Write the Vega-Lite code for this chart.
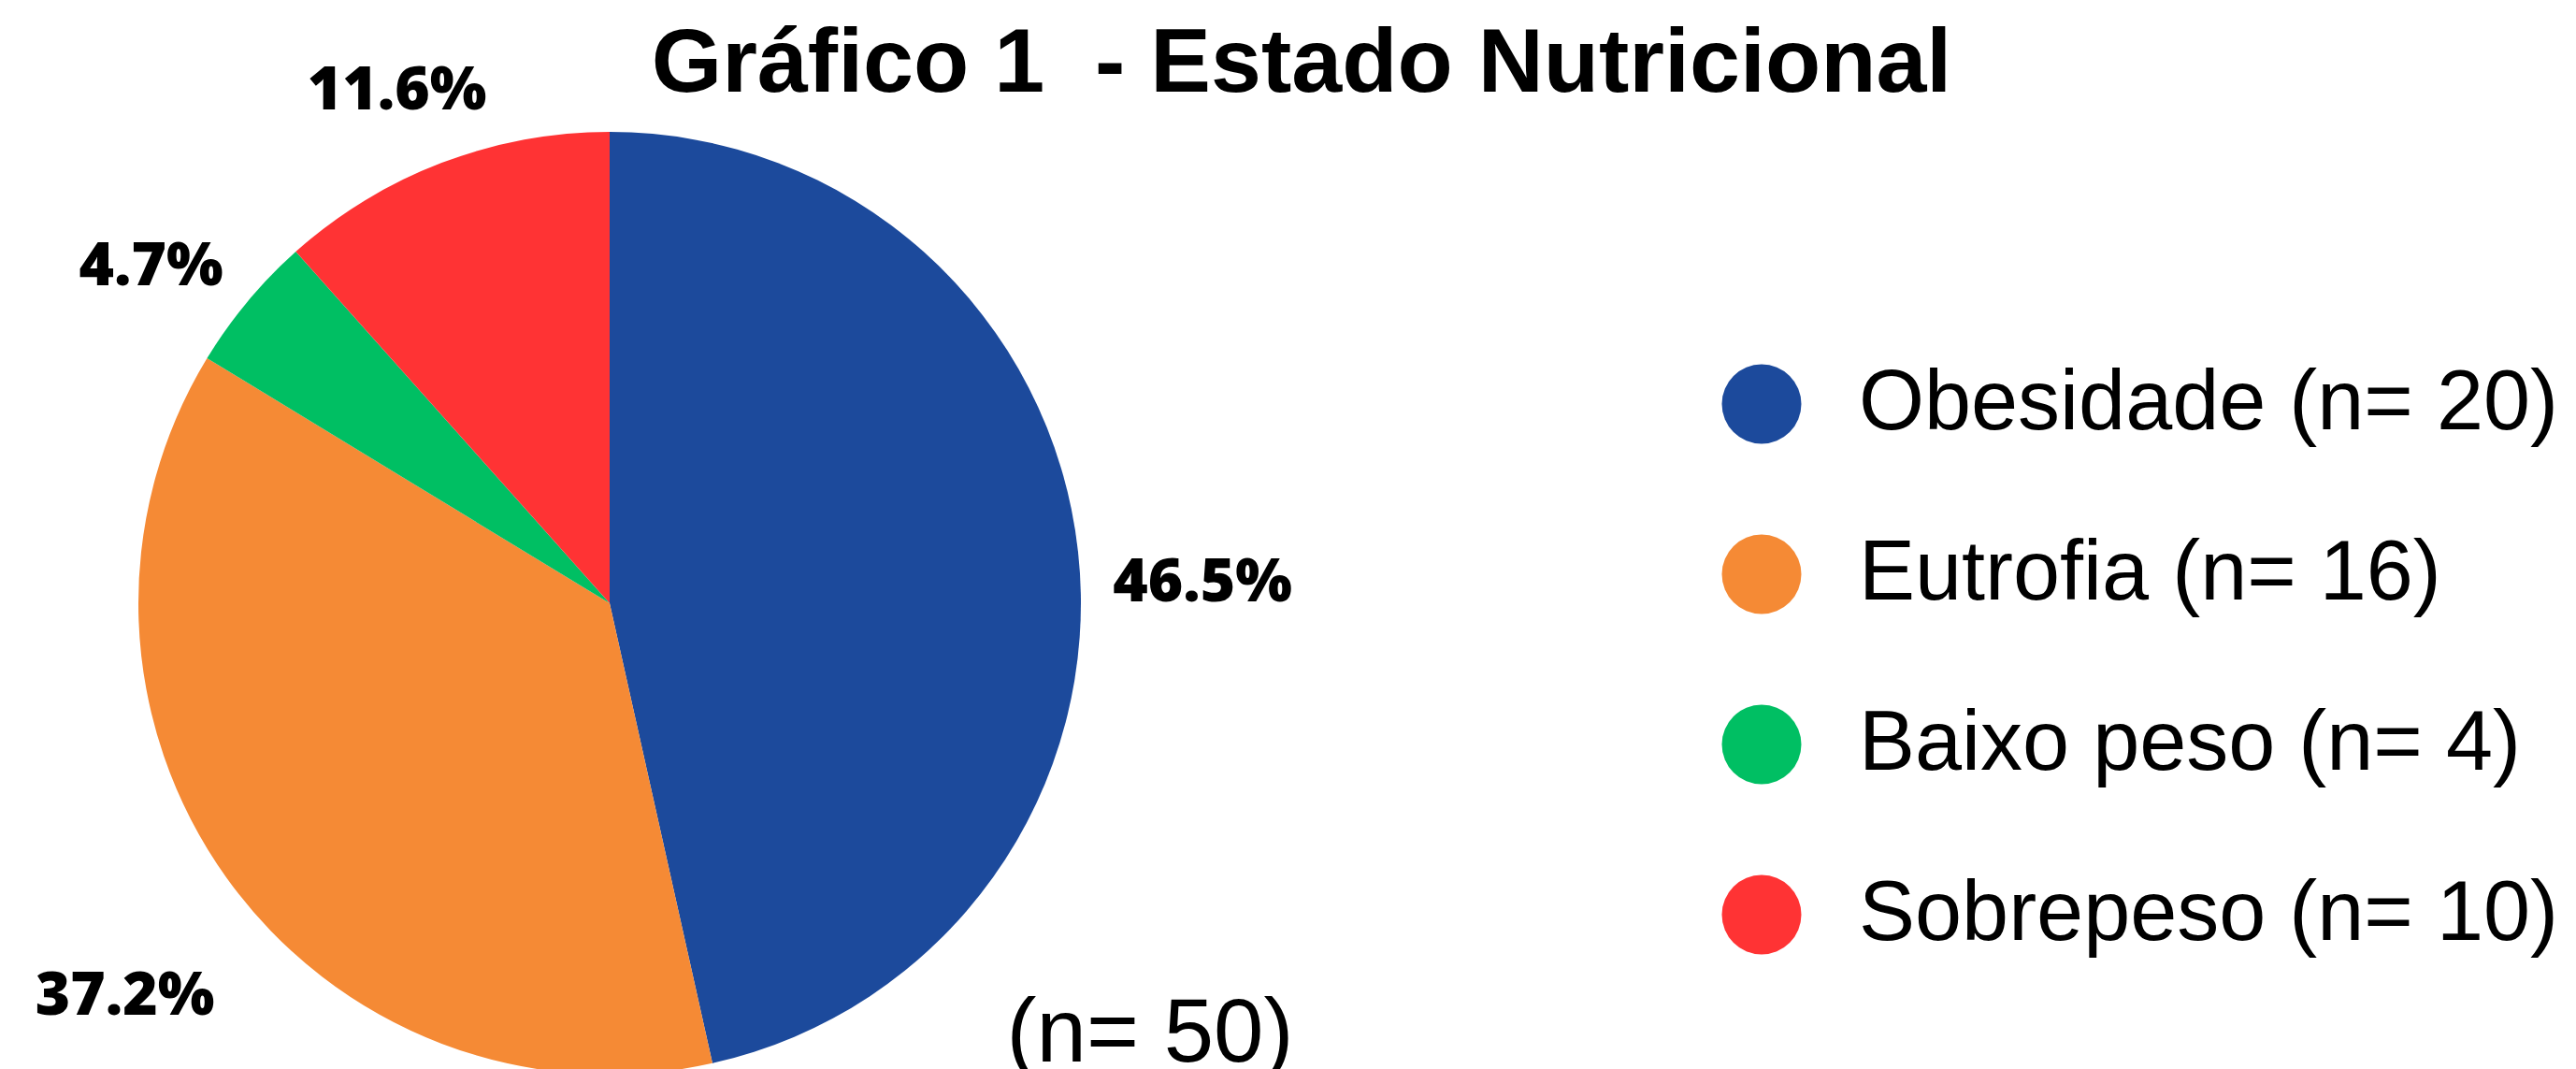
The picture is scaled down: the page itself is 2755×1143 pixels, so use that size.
{
  "$schema": "https://vega.github.io/schema/vega-lite/v6.json",
  "autosize": {"type": "none"},
  "padding": {"left": 0, "top": 150, "right": 1451, "bottom": 3},
  "width": 1304,
  "height": 990,
  "background": "white",
  "config": {"view": {"stroke": null}},
  "title": {
    "text": "Gráfico 1\u00a0 - Estado Nutricional",
    "font": "Liberation Sans",
    "fontSize": 97,
    "fontWeight": "bold",
    "color": "black",
    "anchor": "middle",
    "frame": "group",
    "dx": 740,
    "baseline": "alphabetic",
    "offset": -129
  },
  "data": {
    "values": [
      {"cat": "Obesidade (n= 20)", "pct": 46.5, "label": "46.5%", "ord": 1},
      {"cat": "Eutrofia (n= 16)", "pct": 37.2, "label": "37.2%", "ord": 2},
      {"cat": "Baixo peso (n= 4)", "pct": 4.7, "label": "4.7%", "ord": 3},
      {"cat": "Sobrepeso (n= 10)", "pct": 11.6, "label": "11.6%", "ord": 4}
    ]
  },
  "layer": [
    {
      "mark": {"type": "arc", "radius": 504, "strokeWidth": 0},
      "encoding": {
        "theta": {"field": "pct", "type": "quantitative", "stack": true},
        "order": {"field": "ord", "type": "quantitative"},
        "color": {
          "field": "cat",
          "type": "nominal",
          "scale": {
            "domain": ["Obesidade (n= 20)", "Eutrofia (n= 16)", "Baixo peso (n= 4)", "Sobrepeso (n= 10)"],
            "range": ["#1c4a9c", "#f58a35", "#00bf63", "#ff3334"]
          },
          "legend": {
            "orient": "none",
            "legendX": 1839,
            "legendY": 237,
            "title": null,
            "symbolType": "circle",
            "symbolSize": 7225,
            "symbolStrokeWidth": 0,
            "symbolOpacity": 1,
            "labelFontSize": 90,
            "labelFont": "Liberation Sans",
            "labelColor": "black",
            "labelOffset": 59,
            "rowPadding": 92,
            "padding": 0,
            "labelLimit": 0
          }
        }
      }
    },
    {
      "mark": {
        "type": "text",
        "radius": 638,
        "dy": 49,
        "font": "Open Sans",
        "fontWeight": 800,
        "fontSize": 64,
        "color": "black",
        "align": "center",
        "baseline": "middle"
      },
      "encoding": {
        "theta": {"field": "pct", "type": "quantitative", "stack": true},
        "order": {"field": "ord", "type": "quantitative"},
        "detail": {"field": "cat", "type": "nominal"},
        "text": {"field": "label", "type": "nominal"}
      }
    },
    {
      "data": {"values": [{"note": "(n= 50)"}]},
      "mark": {
        "type": "text",
        "font": "Liberation Sans",
        "fontSize": 96,
        "color": "black",
        "align": "center",
        "baseline": "alphabetic"
      },
      "encoding": {
        "x": {"value": 1230},
        "y": {"value": 985},
        "text": {"field": "note", "type": "nominal"}
      }
    }
  ]
}
